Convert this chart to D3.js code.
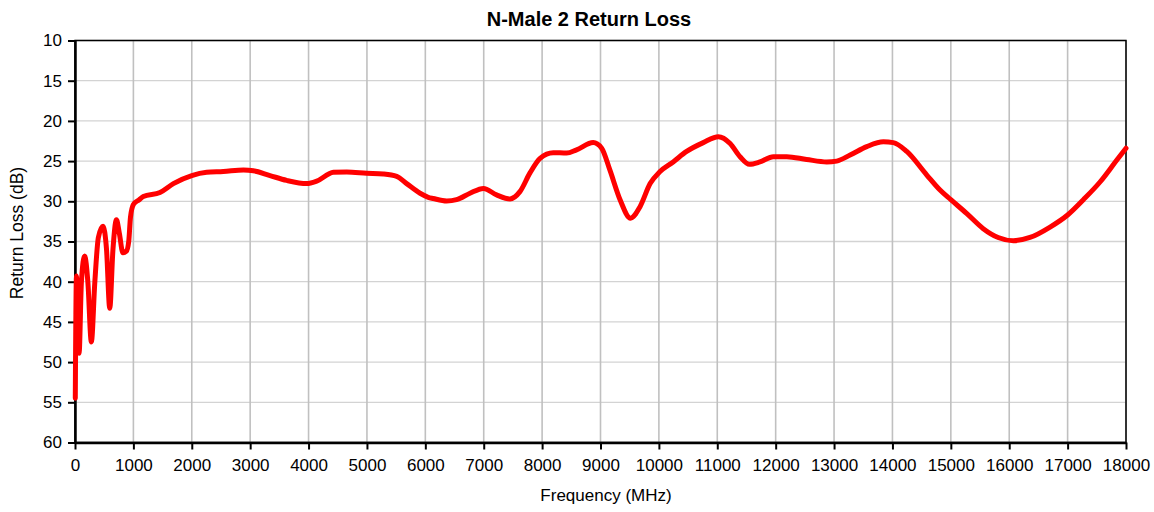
<!DOCTYPE html>
<html><head><meta charset="utf-8">
<script src="https://cdn.jsdelivr.net/npm/d3@7"></script>
<style>body{margin:0;background:#fff}svg{display:block;font-family:"Liberation Sans",Arial,sans-serif}</style>
</head><body>
<svg id="c" width="1154" height="512"></svg>
<script>
const title = "N-Male 2 Return Loss";
const xLabel = "Frequency (MHz)";
const yLabel = "Return Loss (dB)";
const xTicks = [0,1000,2000,3000,4000,5000,6000,7000,8000,9000,10000,11000,12000,13000,14000,15000,16000,17000,18000];
const yTicks = [10,15,20,25,30,35,40,45,50,55,60];
const freq = [5,25,70,110,165,220,280,340,400,480,540,595,650,710,760,820,880,920,950,1000,1100,1170,1455,1685,2000,2255,2540,2885,3055,3340,3625,3970,4140,4425,4655,4995,5280,5510,5680,5910,6050,6135,6365,6535,6765,6995,7220,7450,7620,7790,7965,8190,8420,8590,8875,9020,9160,9335,9515,9675,9850,10020,10245,10475,10760,11020,11220,11390,11550,11730,11960,12190,12530,12875,13045,13275,13560,13845,14015,14245,14585,14815,15000,15270,15555,15810,16070,16355,16700,17000,17270,17555,17840,18000];
const rl = [54.5,39.3,48.9,40,36.8,40,47.5,40,34.5,33.1,36,43.3,36,32.3,34,36.4,36.2,35,32,30.4,29.8,29.4,28.9,27.8,26.8,26.4,26.3,26.1,26.2,26.8,27.4,27.8,27.5,26.4,26.35,26.5,26.6,26.9,27.8,29.0,29.5,29.65,29.96,29.8,29.0,28.4,29.2,29.7,28.8,26.5,24.65,23.95,24.0,23.6,22.7,23.4,26.1,29.8,32.1,30.7,27.8,26.3,25.1,23.8,22.7,21.96,22.8,24.45,25.4,25.1,24.45,24.45,24.8,25.1,25.0,24.25,23.2,22.6,22.7,23.8,26.7,28.6,29.8,31.5,33.4,34.5,34.9,34.5,33.2,31.7,29.8,27.6,24.9,23.4];

const svg = d3.select("#c");
const m = {l:75, r:28, t:40.5, b:69.5};
const W = 1154, H = 512;
const x = d3.scaleLinear().domain([0,18000]).range([m.l, W-m.r]);
const y = d3.scaleLinear().domain([10,60]).range([m.t, H-m.b]);

// gridlines
svg.append("g").selectAll("line").data(yTicks).join("line")
  .attr("x1",x(0)).attr("x2",x(18000)).attr("y1",d=>y(d)).attr("y2",d=>y(d))
  .attr("stroke","#d3d3d3").attr("stroke-width",1.3);
svg.append("g").selectAll("line").data(xTicks).join("line")
  .attr("x1",d=>x(d)).attr("x2",d=>x(d)).attr("y1",y(10)).attr("y2",y(60))
  .attr("stroke","#c0c0c0").attr("stroke-width",1.6);

// frame
svg.append("rect").attr("x",x(0)).attr("y",y(10)).attr("width",x(18000)-x(0)).attr("height",y(60)-y(10))
  .attr("fill","none").attr("stroke","#000").attr("stroke-width",1.5);

// axes
const xa = svg.append("g").attr("transform",`translate(0,${y(60)})`)
  .call(d3.axisBottom(x).tickValues(xTicks).tickSize(7).tickSizeOuter(0).tickPadding(9).tickFormat(d3.format("d")));
const ya = svg.append("g").attr("transform",`translate(${x(0)},0)`)
  .call(d3.axisLeft(y).tickValues(yTicks).tickSize(7).tickSizeOuter(0).tickPadding(6).tickFormat(d3.format("d")));
[xa,ya].forEach(g=>{
  g.select(".domain").attr("stroke","#000").attr("stroke-width",2.5);
  g.selectAll(".tick line").attr("stroke","#000").attr("stroke-width",2);
  g.selectAll(".tick text").attr("fill","#000").style("font-size","17px").style("font-family","'Liberation Sans',Arial,sans-serif");
});

// line (drawn over axes as in reference)
const data = freq.map((f,i)=>({f, v: rl[i]}));
svg.append("path").datum(data)
  .attr("fill","none").attr("stroke","#ff0000").attr("stroke-width",5).attr("stroke-linejoin","round").attr("stroke-linecap","round")
  .attr("d", d3.line().x(d=>x(d.f)).y(d=>y(d.v)).curve(d3.curveMonotoneX));

svg.append("text").attr("x",589).attr("y",26).attr("text-anchor","middle")
  .style("font-size","20px").style("font-weight","bold").text(title);
svg.append("text").attr("x",606).attr("y",501).attr("text-anchor","middle")
  .style("font-size","17px").text(xLabel);
svg.append("text").attr("transform","translate(23,233) rotate(-90)").attr("text-anchor","middle")
  .style("font-size","17.5px").text(yLabel);
</script>
</body></html>
